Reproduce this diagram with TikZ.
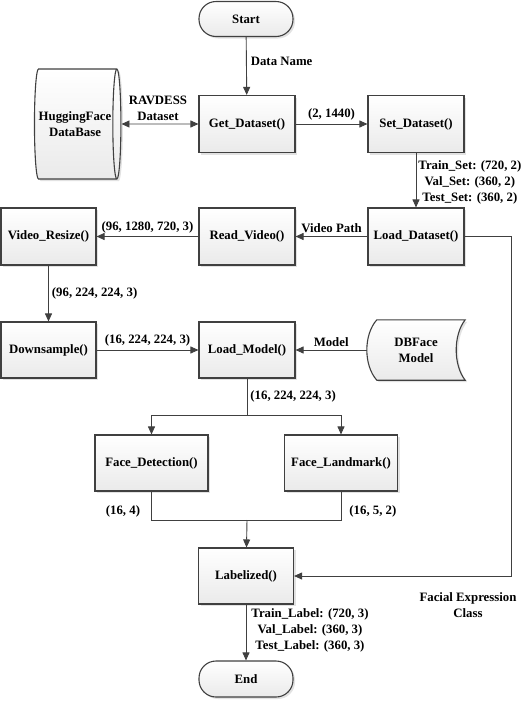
\documentclass[tikz,border=0pt]{standalone}
\usepackage{fontspec}
\setmainfont{Liberation Serif}
\usetikzlibrary{arrows.meta,shapes.geometric,shadows,calc}
\definecolor{edge}{HTML}{404040}
\definecolor{shadecol}{HTML}{EAEAEA}
\definecolor{shadowcol}{HTML}{E2E2E2}

\begin{document}
\begin{tikzpicture}[x=1pt,y=-1pt,
  every node/.style={font=\bfseries\fontsize{12.8}{16}\selectfont, text=black, inner sep=1pt},
  shaded/.style={draw=edge, line width=1.1pt, top color=white, bottom color=shadecol,
    drop shadow={shadow xshift=2pt, shadow yshift=-2pt, fill=shadowcol, opacity=1}},
  stepbox/.style={shaded, rectangle, minimum width=96pt, minimum height=57pt, align=center},
  term/.style={shaded, rectangle, rounded corners=17pt, minimum width=94pt, minimum height=35pt},
  arr/.style={draw=edge, line width=0.9pt, -{Triangle[length=8pt,width=7pt]}},
  link/.style={draw=edge, line width=0.9pt},
  lbl/.style={align=center}
]
\useasboundingbox (0,0) rectangle (527,702);

% ---- process steps ----
\node[term] (start) at (246,19) {Start};
\node[stepbox] (get) at (247,124) {Get\_Dataset()};
\node[stepbox] (set) at (416,124) {Set\_Dataset()};
\node[stepbox] (load) at (416,236.5) {Load\_Dataset()};
\node[stepbox] (read) at (247,236.5) {Read\_Video()};
\node[stepbox, minimum width=95pt] (resize) at (48.5,236.5) {Video\_Resize()};
\node[stepbox, minimum width=95pt, minimum height=56pt] (down) at (48.5,350) {Downsample()};
\node[stepbox, minimum height=56pt] (model) at (247,350) {Load\_Model()};
\node[stepbox, minimum width=113pt, minimum height=56pt] (det) at (151.5,463) {Face\_Detection()};
\node[stepbox, minimum width=113pt, minimum height=56pt] (lmk) at (341,463) {Face\_Landmark()};
\node[stepbox, minimum width=95pt, minimum height=56pt] (lab) at (246,576) {Labelized()};
\node[term, minimum height=36pt] (end) at (246,679) {End};

% ---- data stores ----
\node[shaded, cylinder, shape aspect=0.3, minimum width=110pt, minimum height=57pt, align=center]
  (hf) at (75,124) {HuggingFace\\DataBase};

\node[minimum width=98pt, minimum height=60pt, align=center] (db) at (416,350) {DBFace\\Model};
\path[shaded]
  ($(db.north west)+(10,0)$) -- (db.north east)
  .. controls ($(db.north east)+(-12,15)$) and ($(db.south east)+(-12,-15)$) .. (db.south east)
  -- ($(db.south west)+(10,0)$)
  .. controls ($(db.south west)+(-3.3,-15)$) and ($(db.north west)+(-3.3,15)$) .. ($(db.north west)+(10,0)$)
  -- cycle;
\node[align=center] at (db.center) {DBFace\\Model};

% ---- connectors ----
\draw[arr] (start) -- node[pos=0.42, anchor=west, xshift=3pt] {Data Name} (get);
\draw[draw=edge, line width=0.9pt, {Triangle[length=8pt,width=7pt]}-{Triangle[length=8pt,width=7pt]}]
  (hf) -- node[lbl, above=2pt, xshift=-2pt] {RAVDESS\\Dataset} (get);
\draw[arr] (get) -- node[above=2pt] {(2, 1440)} (set);
\draw[arr] (set) -- node[lbl, anchor=west, xshift=1pt, yshift=-2pt]
  {Train\_Set: (720, 2)\\Val\_Set: (360, 2)\\Test\_Set: (360, 2)} (load);
\draw[arr] (load) -- node[above=2pt] {Video Path} (read);
\draw[arr] (read) -- node[above=2pt] {(96, 1280, 720, 3)} (resize);
\draw[arr] (resize) -- node[anchor=west, xshift=2pt] {(96, 224, 224, 3)} (down);
\draw[arr] (down) -- node[above=2pt] {(16, 224, 224, 3)} (model);
\draw[arr] (db.west) -- node[above=2pt] {Model} (model);

\coordinate (split) at (247,415);
\draw[link] (model.south) -- node[anchor=west, xshift=2pt] {(16, 224, 224, 3)} (split);
\draw[arr] (split) -| (det.north);
\draw[arr] (split) -| (lmk.north);

\coordinate (merge) at (247,520);
\draw[link] (det.south) -- node[pos=0.69, left=10pt] {(16, 4)} (det.south |- merge)
  -- (lmk.south |- merge) -- node[pos=0.31, right=7pt] {(16, 5, 2)} (lmk.south);
\draw[arr] (merge) -- (lab);

\coordinate (loopc) at (511,236.5);
\draw[arr] (load.east) -- (loopc) |- (lab.east);
\node[lbl] (fec) at (468,605) {Facial Expression\\Class};

\draw[arr] (lab) -- node[lbl, anchor=west, xshift=4pt, yshift=2pt]
  {Train\_Label: (720, 3)\\Val\_Label: (360, 3)\\Test\_Label: (360, 3)} (end);
\end{tikzpicture}
\end{document}
